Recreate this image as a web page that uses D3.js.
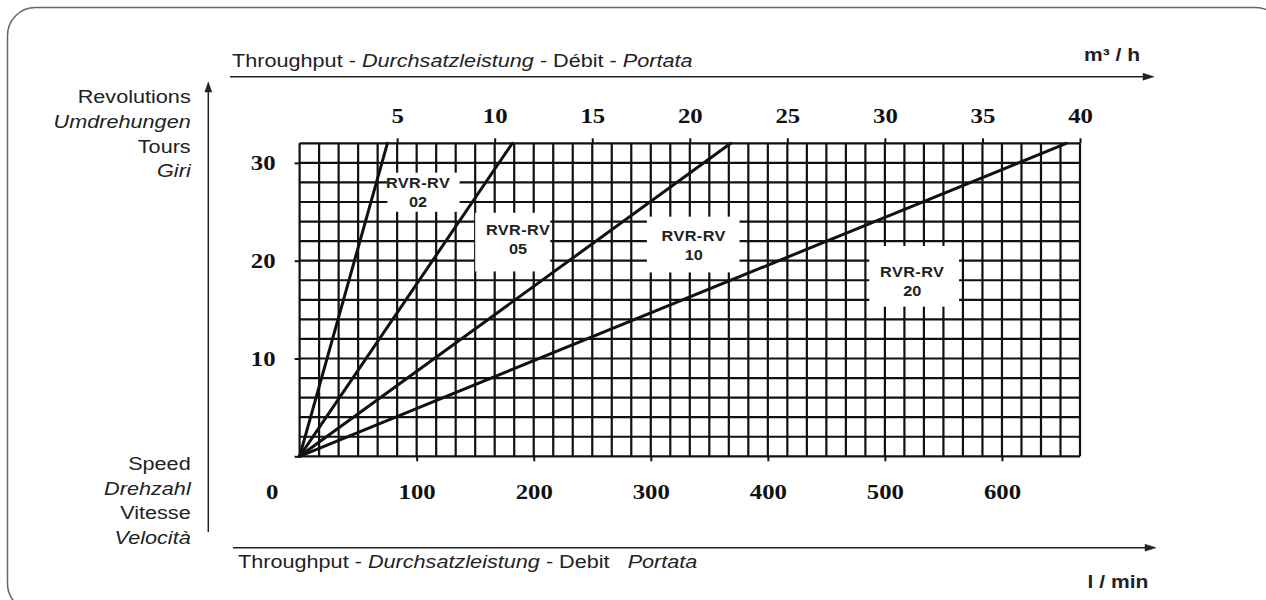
<!DOCTYPE html>
<html>
<head>
<meta charset="utf-8">
<script src="https://cdn.jsdelivr.net/npm/d3@7"></script>
<style>
  html, body { margin: 0; padding: 0; background: #fff; }
  svg { display: block; }
</style>
</head>
<body>
<div id="chart"></div>
<script>
// pump models and their throughput (m3/h) at the top of the speed range
const models = ["02", "05", "10", "20"];
const flowAtTop = [4.5, 10.9, 22.1, 39.3];
const maxRevs = 32;
const maxFlow = 40; // m3/h

// tick labels
const topTicks = [5, 10, 15, 20, 25, 30, 35, 40];       // m3/h
const bottomTicks = [0, 100, 200, 300, 400, 500, 600];   // l/min
const leftTicks = [0, 10, 20, 30];

// label boxes [q0, q1, r0, r1] in chart units
const labelBoxes = [
  [4.5, 8.2, 25, 29],
  [9, 12.85, 18.9, 24.9],
  [17.8, 22.55, 18.8, 24.5],
  [29.2, 33.8, 15.3, 21.5]
];
// label text anchor [q, r] (first line baseline)
const labelPos = [
  [6.07, 27.4],
  [11.2, 22.6],
  [20.2, 22.05],
  [31.4, 18.3]
];

const leftTop = ["Revolutions", "Umdrehungen", "Tours", "Giri"];
const leftBottom = ["Speed", "Drehzahl", "Vitesse", "Velocità"];

const W = 1266, H = 600;
const SX = 1.17;   // reference text is a bit stretched sideways
const sans = "'Liberation Sans', Arial, sans-serif";
const serif = "'Liberation Serif', 'Times New Roman', serif";

const svg = d3.select("#chart").append("svg")
  .attr("width", W).attr("height", H);

// frame
svg.append("rect")
  .attr("x", 7.5).attr("y", 7.5)
  .attr("width", 1276).attr("height", 604)
  .attr("rx", 28).attr("ry", 28)
  .attr("fill", "none")
  .attr("stroke", "#666")
  .attr("stroke-width", 1.5);

// scales
const x = d3.scaleLinear().domain([0, maxFlow]).range([299.6, 1080]);
const xl = d3.scaleLinear().domain([0, maxFlow * 1000 / 60]).range([299.6, 1080]);
const y = d3.scaleLinear().domain([0, maxRevs]).range([456.3, 143.3]);

// stretch a text selection horizontally, keeping its anchor point
function stretch(sel, sx) {
  sel.each(function () {
    const t = d3.select(this);
    const tx = +t.attr("x") || 0, ty = +t.attr("y") || 0;
    t.attr("x", null).attr("y", null)
      .attr("transform", `translate(${tx},${ty}) scale(${sx},1)`);
  });
}

// grid
const grid = svg.append("g")
  .attr("stroke", "#111")
  .attr("stroke-width", 2.2);

grid.selectAll("line.v")
  .data(d3.range(0, maxFlow + 1, 1))
  .join("line")
  .attr("class", "v")
  .attr("x1", d => x(d)).attr("x2", d => x(d))
  .attr("y1", y(0)).attr("y2", y(maxRevs));

grid.selectAll("line.h")
  .data(d3.range(0, maxRevs + 1, 2))
  .join("line")
  .attr("class", "h")
  .attr("x1", x(0)).attr("x2", x(maxFlow))
  .attr("y1", d => y(d)).attr("y2", d => y(d));

function styleAxis(g, size) {
  g.select(".domain").remove();
  g.selectAll(".tick line").attr("stroke", "#111").attr("stroke-width", 2);
  g.selectAll(".tick text")
    .attr("fill", "#111")
    .style("font-family", serif)
    .style("font-weight", "bold")
    .style("font-size", size + "px");
}

// top axis m3/h
const gTop = svg.append("g")
  .attr("transform", `translate(0,${y(maxRevs)})`)
  .call(d3.axisTop(x).tickValues(topTicks).tickSize(5).tickPadding(15));
styleAxis(gTop, 21);
stretch(gTop.selectAll(".tick text"), 1.18);

// bottom axis l/min
const gBot = svg.append("g")
  .attr("transform", `translate(0,${y(0)})`)
  .call(d3.axisBottom(xl).tickValues(bottomTicks).tickSize(5).tickPadding(23));
styleAxis(gBot, 21);
gBot.selectAll(".tick").filter(d => d === 0).select("line").remove();
gBot.selectAll(".tick").filter(d => d === 0).select("text").attr("x", -28);
stretch(gBot.selectAll(".tick text"), 1.18);

// left axis revolutions
const gLeft = svg.append("g")
  .attr("transform", `translate(${x(0)},0)`)
  .call(d3.axisLeft(y).tickValues(leftTicks).tickSize(5).tickPadding(19)
    .tickFormat(d => d === 0 ? "" : d));
styleAxis(gLeft, 21);
stretch(gLeft.selectAll(".tick text"), 1.18);

// label boxes
svg.append("g").selectAll("rect")
  .data(labelBoxes)
  .join("rect")
  .attr("x", d => x(d[0]))
  .attr("width", d => x(d[1]) - x(d[0]))
  .attr("y", d => y(d[3]))
  .attr("height", d => y(d[2]) - y(d[3]))
  .attr("fill", "#fff");

const labels = svg.append("g")
  .attr("fill", "#222")
  .style("font-family", sans)
  .style("font-weight", "bold")
  .style("font-size", "15.5px")
  .attr("text-anchor", "middle");

labelPos.forEach((p, i) => {
  const a = labels.append("text")
    .attr("x", x(p[0])).attr("y", y(p[1]))
    .attr("letter-spacing", "0.4")
    .text("RVR-RV");
  const b = labels.append("text")
    .attr("x", x(p[0])).attr("y", y(p[1]) + 19)
    .text(models[i]);
  stretch(a, 1.05);
  stretch(b, 1.05);
});

// model lines
const line = d3.line().x(d => x(d[0])).y(d => y(d[1]));
svg.append("g").selectAll("path")
  .data(flowAtTop)
  .join("path")
  .attr("d", q => line([[0, 0], [q, maxRevs]]))
  .attr("fill", "none")
  .attr("stroke", "#111")
  .attr("stroke-width", 3)
  .attr("stroke-linecap", "round");

// outer axis arrows
const arrows = svg.append("g")
  .attr("stroke", "#222")
  .attr("stroke-width", 1.5)
  .attr("fill", "#222");

arrows.append("line").attr("x1", 230).attr("x2", 1146).attr("y1", 76.7).attr("y2", 76.7);
arrows.append("path").attr("d", "M1154,76.7 L1143,73.2 L1143,80.2 Z").attr("stroke-width", 0.5);

arrows.append("line").attr("x1", 233).attr("x2", 1148).attr("y1", 547.7).attr("y2", 547.7);
arrows.append("path").attr("d", "M1156,547.7 L1145,544.2 L1145,551.2 Z").attr("stroke-width", 0.5);

arrows.append("line").attr("x1", 208.3).attr("x2", 208.3).attr("y1", 532).attr("y2", 88);
arrows.append("path").attr("d", "M208.3,82 L204.8,92 L211.8,92 Z").attr("stroke-width", 0.5);

// titles
const txt = svg.append("g")
  .attr("fill", "#222")
  .style("font-family", sans)
  .style("font-size", "18.5px");

function title(xp, yp, parts) {
  const t = txt.append("text").attr("x", xp).attr("y", yp);
  parts.forEach(([s, it]) => {
    t.append("tspan")
      .style("font-style", it ? "italic" : "normal")
      .attr("xml:space", "preserve")
      .text(s);
  });
  stretch(t, SX);
}

title(232, 67, [["Throughput - ", false], ["Durchsatzleistung", true], [" - Débit - ", false], ["Portata", true]]);
title(238, 567.5, [["Throughput - ", false], ["Durchsatzleistung", true], [" - Debit \u00a0 ", false], ["Portata", true]]);

const units = [["m³ / h", 1112, 61], ["l / min", 1118, 588]];
units.forEach(([s, ux, uy]) => {
  const t = txt.append("text")
    .attr("x", ux).attr("y", uy)
    .attr("text-anchor", "middle")
    .style("font-weight", "bold")
    .style("font-size", "18px")
    .text(s);
  stretch(t, SX);
});

function sideLabels(list, y0) {
  list.forEach((s, i) => {
    const t = txt.append("text")
      .attr("x", 190.7).attr("y", y0 + i * 24.7)
      .attr("text-anchor", "end")
      .style("font-style", i % 2 ? "italic" : "normal")
      .text(s);
    stretch(t, SX);
  });
}
sideLabels(leftTop, 103.3);
sideLabels(leftBottom, 470);
</script>
</body>
</html>
